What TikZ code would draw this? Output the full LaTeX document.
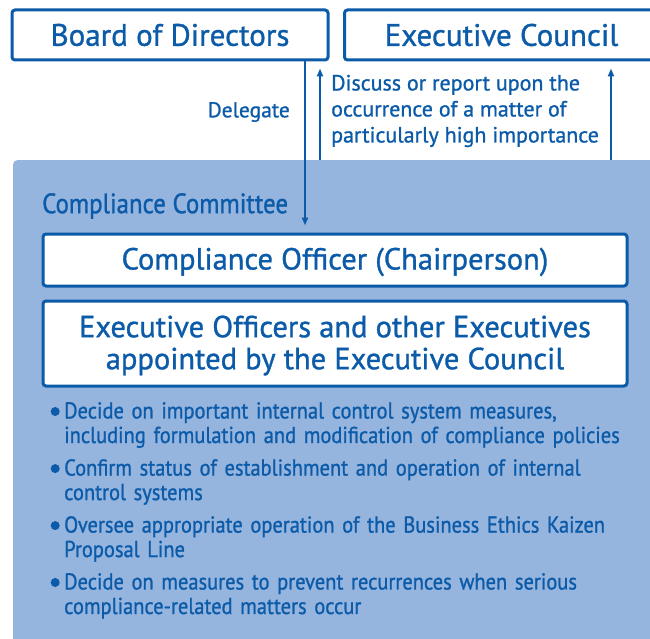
\documentclass[tikz,border=0pt]{standalone}
\usepackage{fontspec}
\setmainfont[FakeBold=1]{PT Sans}
\newfontfamily\condfont[FakeStretch=0.89,FakeBold=1]{PT Sans}
\usetikzlibrary{arrows.meta}
\definecolor{dblue}{HTML}{0B5BA9}
\definecolor{lblue}{HTML}{95B4DE}
\newcommand{\bdot}{\makebox[14pt][l]{\hspace*{0.5pt}\tikz[baseline=-7pt]\fill[dblue] (0,0) circle (4.5pt);}}
\tikzset{
  x=1pt,y=-1pt,
  topbox/.style={draw=dblue,line width=3pt,rounded corners=3pt,fill=white,text=dblue,inner sep=0pt,font=\fontsize{31}{34}\selectfont},
  innerbox/.style={draw=dblue,line width=3pt,rounded corners=3pt,fill=white,inner sep=0pt},
  boxtext/.style={text=dblue,inner sep=0pt,align=center,font=\fontsize{30.5}{32}\selectfont},
  lbl/.style={text=dblue,inner sep=0pt,font=\fontsize{22}{26}\selectfont},
  conn/.style={draw=dblue,line width=2.5pt,-{Triangle[length=8pt,width=6pt]}},
  bul/.style={lbl,anchor=north west,align=left,text width=590pt,font=\condfont\fontsize{23}{24.5}\selectfont}
}
\begin{document}
\begin{tikzpicture}
\useasboundingbox (0,0) rectangle (650,639);
\clip (0,0) rectangle (650,639);
\fill[white] (0,0) rectangle (650,639);
\node[topbox,minimum width=316pt,minimum height=50pt] (b) at (170,35) {Board of Directors};
\node[topbox,minimum width=330pt,minimum height=50pt,anchor=west] (ec) at (343,35) {\hspace*{-16pt}Executive Council};
\node[fill=lblue,rounded corners=4pt,minimum width=660pt,minimum height=490pt,anchor=north west,inner sep=0pt] (cc) at (13,160) {};
\node[lbl,anchor=west,font=\condfont\fontsize{28}{30}\selectfont] (cct) at (42,206) {Compliance Committee};
\node[innerbox,minimum width=584pt,minimum height=52pt] (co) at (335,260) {};
\node[boxtext] (cot) at (335,262) {Compliance Officer (Chairperson)};
\node[innerbox,minimum width=584pt,minimum height=85pt] (eo) at (335,343.5) {};
\node[boxtext] (eot) at (335,345.5) {Executive Officers and other Executives\\appointed by the Executive Council};
\node[lbl,anchor=east,font=\fontsize{21.5}{26}\selectfont] (del) at (290,112) {Delegate};
\node[lbl,anchor=west,align=left] (disc) at (331,111) {Discuss or report upon the\\occurrence of a matter of\\particularly high importance};
\draw[conn] (b.south -| 305,0) -- ([yshift=7pt]co.north -| 305,0);
\draw[conn] (cc.north -| 320,0) -- ([yshift=-7pt]b.south -| 320,0);
\draw[conn] (cc.north -| 611,0) -- ([yshift=-7pt]ec.south -| 611,0);
\node[bul] (l1) at (50,402) {\bdot Decide on important internal control system measures,\\\hspace*{14pt}including formulation and modification of compliance policies};
\node[bul] (l2) at (50,459) {\bdot Confirm status of establishment and operation of internal\\\hspace*{14pt}control systems};
\node[bul] (l3) at (50,516) {\bdot Oversee appropriate operation of the Business Ethics Kaizen\\\hspace*{14pt}Proposal Line};
\node[bul] (l4) at (50,573) {\bdot Decide on measures to prevent recurrences when serious\\\hspace*{14pt}compliance-related matters occur};
\end{tikzpicture}
\end{document}
